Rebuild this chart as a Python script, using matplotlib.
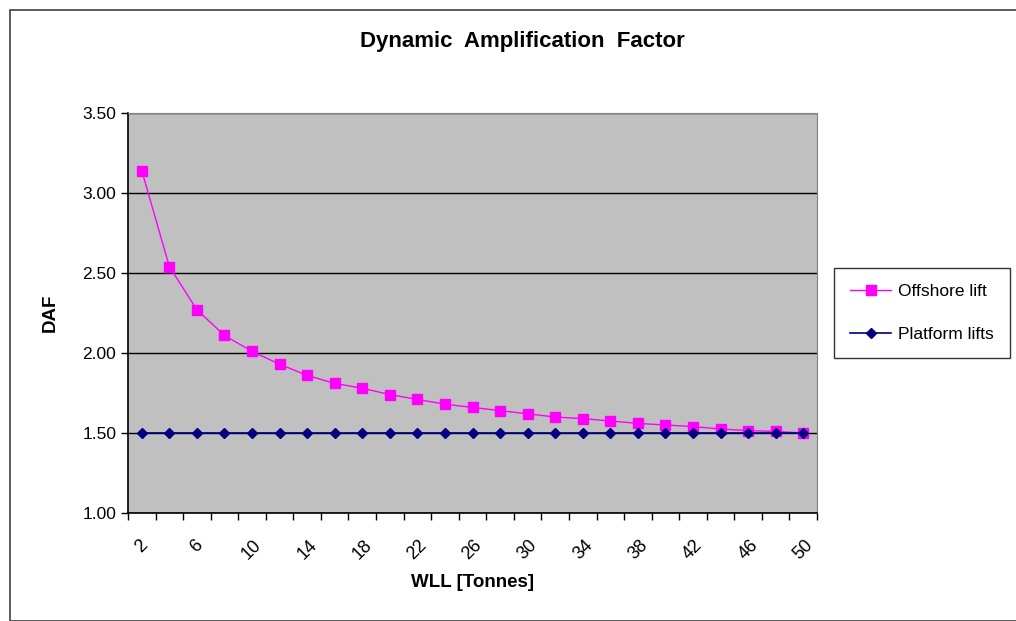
import matplotlib.pyplot as plt
from matplotlib.patches import Rectangle

# categories (WLL in tonnes)
wll = [2, 4, 6, 8, 10, 12, 14, 16, 18, 20, 22, 24, 26,
       28, 30, 32, 34, 36, 38, 40, 42, 44, 46, 48, 50]
offshore_lift = [3.14, 2.54, 2.27, 2.11, 2.01, 1.93, 1.86, 1.81, 1.78, 1.74,
                 1.71, 1.68, 1.66, 1.64, 1.62, 1.60, 1.59, 1.575, 1.56, 1.55,
                 1.54, 1.525, 1.515, 1.51, 1.50]
platform_lifts = [1.50] * 25
y_ticks = [1.00, 1.50, 2.00, 2.50, 3.00, 3.50]

plt.rcParams['font.family'] = ['Liberation Sans', 'DejaVu Sans']

W, H = 1016, 621
fig = plt.figure(figsize=(W / 100, H / 100), dpi=100)
fig.patch.set_facecolor('white')

# chart area border
fig.patches.append(Rectangle((10 / W, 0), 1.1, 1 - 10 / H, transform=fig.transFigure,
                             fill=False, edgecolor='#404040', linewidth=1.2))

ax = fig.add_axes([128 / W, 1 - 513 / H, (817 - 128) / W, (513 - 113) / H])
ax.set_facecolor('#C0C0C0')

idx = list(range(len(wll)))
ax.plot(idx, offshore_lift, color='#FF00FF', marker='s', markersize=7.5,
        linewidth=1, label='Offshore lift', zorder=3)
ax.plot(idx, platform_lifts, color='#000080', marker='D', markersize=5,
        linewidth=1.2, label='Platform lifts', zorder=4)

ax.set_xlim(-0.5, len(wll) - 0.5)
ax.set_ylim(1.0, 3.5)
ax.set_yticks(y_ticks)
ax.set_yticklabels([f'{v:.2f}' for v in y_ticks], fontsize=12.5)
ax.yaxis.grid(True, color='black', linewidth=1)
ax.set_axisbelow(True)

ax.set_xticks([i - 0.5 for i in range(len(wll) + 1)])
ax.set_xticklabels([])
ax.set_xticks(idx[::2], minor=True)
ax.set_xticklabels([str(w) for w in wll[::2]], minor=True, rotation=45,
                   ha='center', va='top', fontsize=13)
ax.tick_params(axis='x', which='major', direction='out', length=5, width=1)
ax.tick_params(axis='x', which='minor', length=0, pad=17)
ax.tick_params(axis='y', direction='out', length=5, width=1)

for s in ['top', 'right']:
    ax.spines[s].set_color('#808080')
for s in ['left', 'bottom']:
    ax.spines[s].set_color('black')
    ax.spines[s].set_linewidth(1.2)

ax.set_xlabel('WLL [Tonnes]', fontsize=13.5, fontweight='bold', labelpad=8)
ax.set_ylabel('DAF', fontsize=13.5, fontweight='bold', labelpad=17)
fig.text(522 / W, 1 - 42 / H, 'Dynamic  Amplification  Factor',
         ha='center', va='center', fontsize=16, fontweight='bold')

leg = fig.legend(loc='center', bbox_to_anchor=(922 / W, 1 - 313 / H),
                 fontsize=12.5, frameon=True, fancybox=False, edgecolor='black',
                 handlelength=2.4, handletextpad=0.4, labelspacing=1.6,
                 borderpad=0.9, borderaxespad=0)
leg.get_frame().set_linewidth(1)

fig.savefig('out.png', dpi=100)
